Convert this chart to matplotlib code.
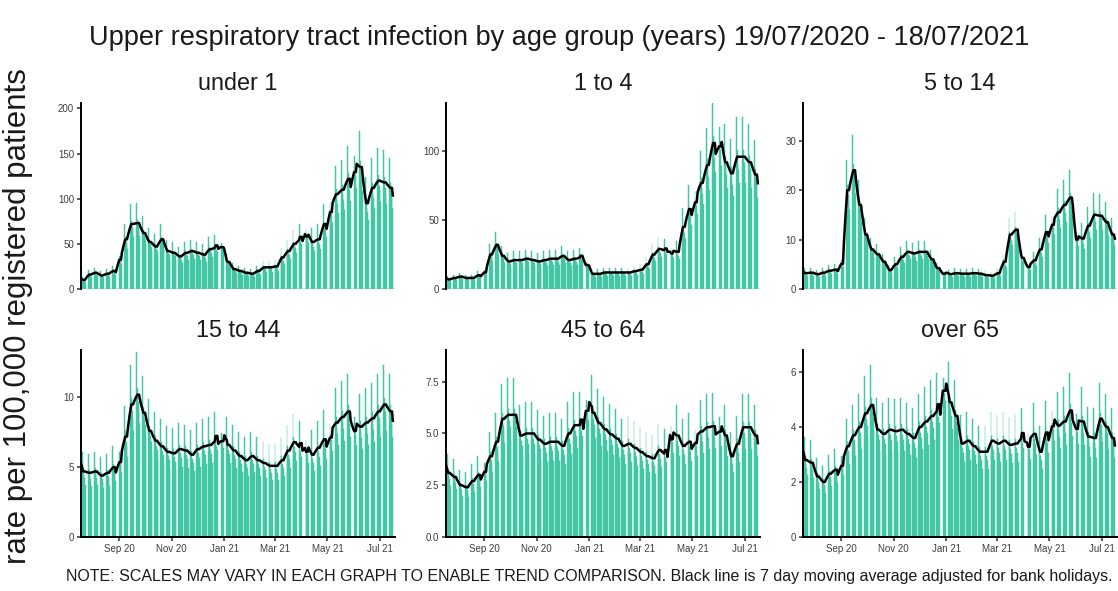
import numpy as np
import pandas as pd
import matplotlib
matplotlib.use('Agg')
import matplotlib.pyplot as plt
import matplotlib.dates as mdates

plt.rcParams['font.family'] = ['Liberation Sans', 'DejaVu Sans']

start = '2020-07-19'
end = '2021-07-18'
first_monday = '2020-07-20'

groups = ['under 1', '1 to 4', '5 to 14', '15 to 44', '45 to 64', 'over 65']

# weekly mean rate (Mon-Fri) per 100,000, weeks starting 20/07/2020
under1 = [10, 16, 18, 15, 17, 20, 35, 55, 72, 73, 62, 52, 47, 55, 42, 40, 36, 40,
          42, 40, 38, 44, 46, 48, 30, 22, 20, 18, 17, 20, 24, 24, 25, 35, 42, 50,
          55, 63, 52, 55, 72, 92, 105, 110, 122, 140, 135, 95, 112, 120, 118, 112]
age1to4 = [7, 8, 9, 8, 8, 10, 13, 25, 32, 24, 20, 21, 21, 22, 21, 20, 21, 22,
           22, 24, 21, 22, 23, 18, 11, 11, 12, 12, 12, 12, 12, 13, 14, 18, 25, 29,
           28, 28, 27, 45, 58, 68, 77, 90, 106, 112, 92, 84, 96, 96, 92, 83]
age5to14 = [3.2, 3.3, 3.0, 3.3, 3.7, 3.9, 5.5, 20, 24, 17, 11, 8, 7, 5.5, 3.8, 5.0,
            6.5, 7.5, 7.2, 7.5, 7.5, 6.0, 4.0, 3.2, 3.0, 3.2, 3.1, 3.1, 3.2, 3.1,
            2.8, 2.7, 3.2, 5.5, 11, 12, 6, 4.8, 5.8, 8, 11.5, 14, 15.5, 17, 18.5,
            10.8, 10.2, 12.8, 15, 14.8, 13.5, 11]
age15to44 = [4.7, 4.6, 4.7, 4.4, 4.6, 5.0, 5.8, 7.2, 9.5, 10.2, 8.9, 7.6, 6.9, 6.5,
             6.1, 6.0, 6.3, 6.2, 5.9, 6.3, 6.5, 6.6, 6.9, 7.1, 6.6, 6.2, 5.8, 5.5,
             5.8, 5.5, 5.3, 5.1, 5.1, 5.5, 6.2, 6.8, 6.4, 6.6, 5.9, 6.4, 7.0, 7.7,
             8.2, 8.6, 9.0, 8.2, 7.9, 8.2, 8.5, 9.0, 9.5, 9.0]
age45to64 = [3.1, 2.9, 2.5, 2.4, 2.7, 3.0, 3.4, 3.9, 4.6, 5.7, 5.9, 5.9, 4.9, 5.0,
             5.0, 4.7, 4.5, 4.6, 4.6, 4.4, 5.0, 5.4, 5.4, 6.3, 6.0, 5.5, 5.2, 4.95,
             4.75, 4.4, 4.5, 4.3, 4.1, 3.9, 3.8, 4.2, 4.0, 5.1, 4.9, 4.4, 4.6, 4.9,
             5.1, 5.3, 5.35, 5.5, 4.9, 3.9, 4.5, 5.3, 5.3, 4.9]
over65 = [2.8, 2.7, 2.2, 2.0, 2.3, 2.45, 2.8, 3.3, 3.7, 4.0, 4.5, 4.8, 3.9, 3.75,
          3.9, 3.85, 3.9, 3.75, 3.6, 4.0, 4.2, 4.4, 4.6, 5.5, 4.9, 4.4, 3.4, 3.5,
          3.3, 3.1, 3.1, 3.5, 3.4, 3.5, 3.35, 3.4, 3.6, 3.55, 3.75, 3.1, 3.8, 4.35,
          4.05, 4.2, 4.6, 4.25, 4.2, 3.65, 3.6, 4.3, 4.0, 3.6]
weekly = [under1, age1to4, age5to14, age15to44, age45to64, over65]

# share of weekly mean seen on Mon..Fri (no weekend surgeries)
weekday_share = [1.3, 1.05, 0.95, 0.9, 0.8]
bank_holidays = ['2020-08-31', '2020-12-25', '2020-12-28', '2021-01-01',
                 '2021-04-02', '2021-04-05', '2021-05-03', '2021-05-31']

y_tops = [206, 135, 37.6, 13.4, 9.03, 6.8]
y_ticks = [[0, 50, 100, 150, 200], [0, 50, 100], [0, 10, 20, 30],
           [0, 5, 10], [0.0, 2.5, 5.0, 7.5], [0, 2, 4, 6]]
y_fmt = ['%d', '%d', '%d', '%d', '%.1f', '%d']


def daily(levels):
    days = pd.date_range(start, end, freq='D')
    s = pd.Series(np.nan, index=days)
    for i, lvl in enumerate(levels):
        mon = pd.Timestamp(first_monday) + pd.Timedelta(weeks=i)
        for d, share in enumerate(weekday_share):
            s[mon + pd.Timedelta(days=d)] = lvl * share
    s[pd.to_datetime(bank_holidays)] = np.nan
    return s


W, H = 1118, 591
fig = plt.figure(figsize=(W / 100, H / 100), dpi=100)

lefts = [81, 446, 803]
rows = [(103, 289), (350, 537)]
bar_col = '#42c6a6'

for k, name in enumerate(groups):
    r, c = divmod(k, 3)
    top, bot = rows[r]
    ax = fig.add_axes([lefts[c] / W, 1 - bot / H, 314 / W, (bot - top) / H])
    s = daily(weekly[k])
    ma = s.rolling(7, center=True, min_periods=1).mean()
    ax.bar(s.index, s.fillna(0).values, width=1.0, color=bar_col,
           edgecolor=bar_col, linewidth=0.35)
    ax.plot(ma.index[:-2], ma.values[:-2], color='black', lw=1.8)

    ax.set_xlim(pd.Timestamp(start) - pd.Timedelta(hours=12),
                pd.Timestamp(end) + pd.Timedelta(hours=12))
    ax.set_ylim(0, y_tops[k])
    ax.set_yticks(y_ticks[k])
    ax.yaxis.set_major_formatter(plt.FormatStrFormatter(y_fmt[k]))
    ax.xaxis.set_major_locator(mdates.MonthLocator(bymonth=[1, 3, 5, 7, 9, 11]))
    ax.xaxis.set_major_formatter(mdates.DateFormatter('%b %y'))

    for sp in ['top', 'right']:
        ax.spines[sp].set_visible(False)
    ax.spines['left'].set_linewidth(1.4)
    ax.spines['bottom'].set_linewidth(1.4)
    ax.tick_params(length=3, width=1.1, color='#333333', labelsize=7,
                   labelcolor='#3d3d3d', pad=2)
    if r == 0:
        ax.spines['bottom'].set_visible(False)
        ax.tick_params(axis='x', bottom=False, labelbottom=False)
    ax.set_title(name, fontsize=16.8, color='#1a1a1a', pad=9)

fig.text(0.5, 1 - 38 / H, 'Upper respiratory tract infection by age group (years) 19/07/2020 - 18/07/2021',
         ha='center', va='center', fontsize=19.5, color='#1a1a1a')
fig.text(18 / W, 1 - 316 / H, 'rate per 100,000 registered patients', rotation=90,
         ha='center', va='center', fontsize=22.5, color='#1a1a1a')
fig.text(1113 / W, 1 - 577 / H,
         'NOTE: SCALES MAY VARY IN EACH GRAPH TO ENABLE TREND COMPARISON. '
         'Black line is 7 day moving average adjusted for bank holidays.',
         ha='right', va='center', fontsize=11.5, color='#1a1a1a')

fig.savefig('out.png', dpi=100)
